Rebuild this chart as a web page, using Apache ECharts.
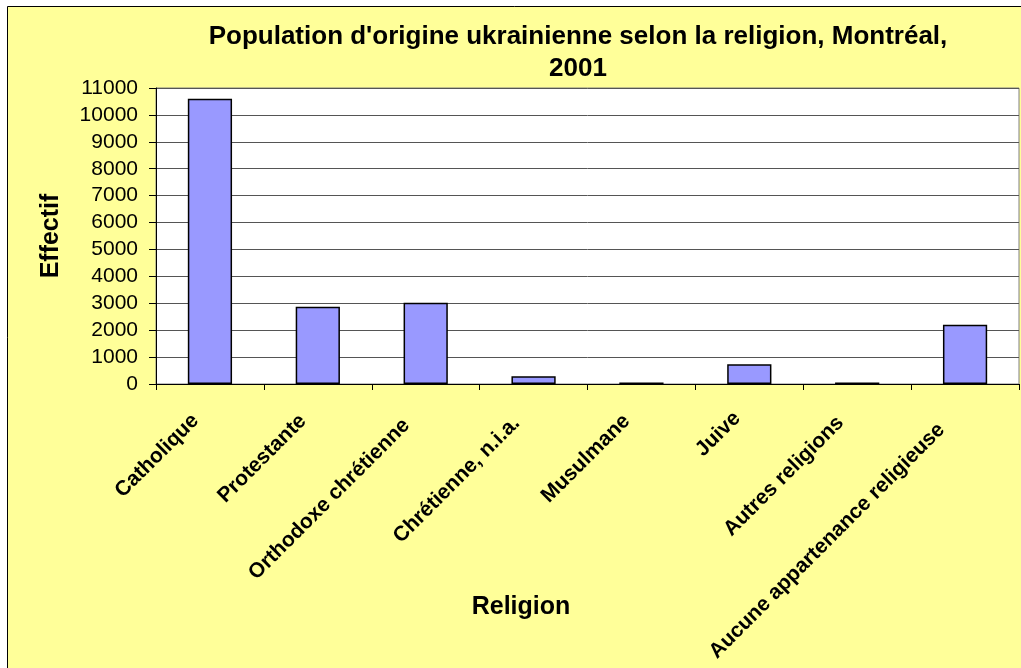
<!DOCTYPE html>
<html>
<head>
<meta charset="utf-8">
<script src="https://cdn.jsdelivr.net/npm/echarts@6/dist/echarts.min.js"></script>
<style>
html,body{margin:0;padding:0;background:#fff;}
#chart{width:1021px;height:668px;}
</style>
</head>
<body>
<div id="chart"></div>
<script>
const titleText = "Population d'origine ukrainienne selon la religion, Montréal,\n2001";
const categories = ["Catholique", "Protestante", "Orthodoxe chrétienne", "Chrétienne, n.i.a.", "Musulmane", "Juive", "Autres religions", "Aucune appartenance religieuse"];
const values = [10600, 2870, 3020, 285, 60, 735, 60, 2205];
const yMin = 0, yMax = 11000, yStep = 1000;
const xName = "Religion";
const yName = "Effectif";

const FONT = '"Liberation Sans", Arial, sans-serif';
const LABEL_SIZE = 21;

// Excel-style layout: label anchor drifts slightly with label length
const measureCtx = document.createElement('canvas').getContext('2d');
measureCtx.font = 'bold ' + LABEL_SIZE + 'px ' + FONT;
const categoryItems = categories.map(c => ({
  value: c,
  textStyle: {padding: [0, 14 + 0.06 * measureCtx.measureText(c).width, 0, 0]}
}));

const chart = echarts.init(document.getElementById('chart'), null, {renderer: 'canvas'});
chart.setOption({
  backgroundColor: '#ffffff',
  animation: false,
  graphic: [{
    type: 'rect', z: -10, silent: true,
    shape: {x: 7.5, y: 6.5, width: 1100, height: 700},
    style: {fill: '#FFFF99', stroke: '#000', lineWidth: 1}
  }],
  title: [{
    text: titleText,
    left: 573, top: 16, textAlign: 'center',
    textStyle: {fontFamily: FONT, fontSize: 26, fontWeight: 'bold', color: '#000', lineHeight: 32}
  }, {
    text: xName,
    left: 516, top: 590, textAlign: 'center',
    textStyle: {fontFamily: FONT, fontSize: 25, fontWeight: 'bold', color: '#000'}
  }],
  grid: {
    left: 156, top: 88, right: 2, bottom: 284,
    show: true, backgroundColor: '#fff', borderColor: '#808080', borderWidth: 1,
    containLabel: false, outerBoundsMode: 'none'
  },
  xAxis: {
    type: 'category', data: categoryItems,
    axisLine: {lineStyle: {color: '#000', width: 1}},
    axisTick: {show: true, length: 6, lineStyle: {color: '#000'}},
    axisLabel: {
      rotate: 45, margin: 19, interval: 0,
      fontFamily: FONT, fontSize: LABEL_SIZE, fontWeight: 'bold', color: '#000'
    }
  },
  yAxis: {
    type: 'value', min: yMin, max: yMax, interval: yStep,
    name: yName, nameLocation: 'middle', nameRotate: 90, nameGap: 92,
    nameTextStyle: {fontFamily: FONT, fontSize: 25, fontWeight: 'bold', color: '#000'},
    axisLine: {show: true, lineStyle: {color: '#000', width: 1}},
    axisTick: {show: true, length: 7, lineStyle: {color: '#000'}},
    axisLabel: {margin: 18, fontFamily: FONT, fontSize: 21, color: '#000', formatter: v => String(v)},
    splitLine: {show: true, lineStyle: {color: '#555', width: 1}}
  },
  series: [{
    type: 'bar', data: values,
    barWidth: '41%',
    itemStyle: {color: '#9999FF', borderColor: '#000', borderWidth: 1.5}
  }]
});
</script>
</body>
</html>
